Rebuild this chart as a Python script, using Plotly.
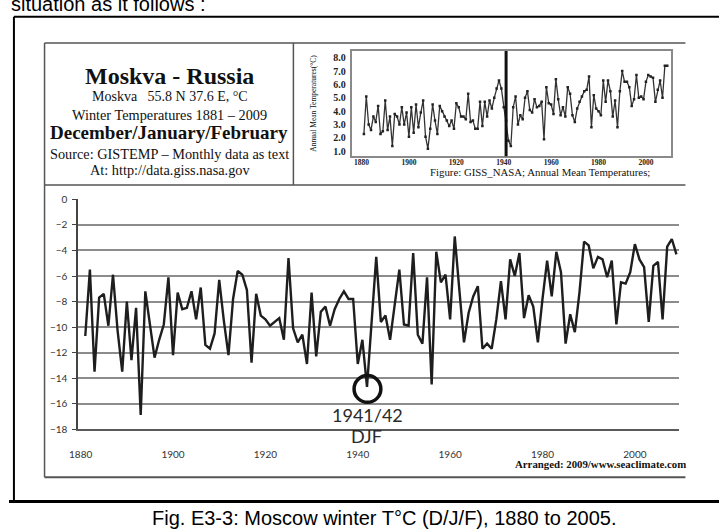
import plotly.graph_objects as go

W, H = 719, 530


def px(x):
    return x / W


def py(y):
    return 1 - y / H


# ---------------- data ----------------
winter_years = list(range(1881, 2010))
winter_temp = [
    -10.7, -5.5, -13.5, -7.7, -7.4, -9.9, -5.9, -10.3, -13.5, -8.0,
    -12.6, -8.5, -16.9, -7.2, -9.8, -12.4, -11.0, -9.8, -6.1, -12.2,
    -7.3, -8.6, -8.5, -7.2, -9.4, -6.9, -11.4, -11.7, -10.5, -6.3,
    -9.5, -12.2, -7.8, -5.6, -5.9, -7.1, -12.8, -7.4, -9.1, -9.4,
    -9.9, -9.6, -9.3, -11.0, -4.6, -10.1, -11.2, -10.6, -12.9, -7.3,
    -12.3, -8.8, -8.4, -9.9, -8.6, -7.8, -7.2, -7.8, -7.8, -12.9,
    -11.0, -14.7, -9.6, -4.5, -9.6, -9.1, -11.0, -8.3, -5.5, -9.8,
    -9.9, -4.2, -10.6, -11.3, -6.1, -14.5, -4.1, -6.5, -5.9, -9.4,
    -2.9, -7.1, -11.2, -8.9, -7.6, -6.8, -11.7, -11.3, -11.7, -9.4,
    -6.4, -9.4, -4.7, -6.0, -4.2, -9.3, -7.5, -8.4, -11.2, -7.8,
    -4.8, -7.6, -4.1, -5.7, -11.3, -9.0, -10.4, -7.3, -3.3, -3.6,
    -5.4, -4.5, -4.7, -6.1, -4.8, -9.8, -6.5, -6.6, -5.7, -3.5,
    -4.7, -5.3, -9.6, -5.2, -4.9, -9.4, -3.7, -3.1, -4.3,
]

annual_years = list(range(1881, 2010))
annual_temp = [
    2.3, 5.1, 3.0, 2.6, 3.6, 3.2, 4.4, 2.3, 2.5, 4.8,
    2.6, 3.6, 1.4, 3.8, 3.6, 3.0, 4.3, 3.0, 3.9, 2.1,
    4.3, 2.4, 4.5, 2.8, 3.9, 4.8, 2.1, 1.2, 2.7, 4.5,
    3.3, 2.3, 4.4, 4.0, 3.6, 3.3, 2.9, 3.3, 2.7, 4.6,
    4.3, 3.6, 3.6, 3.4, 5.3, 3.2, 3.3, 2.7, 2.7, 4.7,
    2.9, 4.7, 3.6, 4.8, 4.2, 5.0, 5.7, 6.3, 5.7, 4.3,
    3.3, 1.8, 1.4, 4.3, 5.1, 3.0, 3.7, 3.4, 5.0, 5.5,
    4.1, 3.9, 4.9, 4.3, 4.4, 4.7, 1.9, 5.8, 4.6, 4.5,
    3.8, 6.4, 4.9, 3.7, 4.3, 3.6, 5.8, 5.3, 3.7, 3.2,
    4.2, 4.7, 5.1, 5.5, 5.6, 6.6, 2.8, 5.2, 4.2, 4.0,
    3.7, 6.3, 4.7, 6.3, 5.5, 3.6, 4.8, 2.8, 5.5, 7.0,
    6.2, 6.2, 5.8, 4.4, 4.9, 6.7, 5.0, 5.1, 4.9, 6.2,
    6.7, 6.6, 6.5, 4.7, 5.6, 6.3, 5.0, 7.4, 7.4,
]

main_xticks = [1880, 1900, 1920, 1940, 1960, 1980, 2000]
main_top_ticks = [1900, 1920, 1940, 1960, 1980, 2000]
main_yticks = [0, -2, -4, -6, -8, -10, -12, -14, -16, -18]
inset_xticks = [1880, 1900, 1920, 1940, 1960, 1980, 2000]
inset_yticks = [1.0, 2.0, 3.0, 4.0, 5.0, 6.0, 7.0, 8.0]
inset_marker_year = 1941
event_year = 1942

SERIF = "Liberation Serif"
SANS = "Liberation Sans"
CAL = "Lato"

fig = go.Figure()

fig.add_trace(go.Scatter(
    x=winter_years, y=winter_temp, mode="lines",
    line=dict(color="#1e1e1e", width=2.4),
    xaxis="x", yaxis="y", showlegend=False, hoverinfo="x+y",
))

fig.add_trace(go.Scatter(
    x=annual_years, y=annual_temp, mode="lines+markers",
    line=dict(color="#333333", width=1.3),
    marker=dict(symbol="square", size=2.5, color="#222222"),
    xaxis="x2", yaxis="y2", showlegend=False, hoverinfo="x+y",
))

main_xrange = [1879.45, 2009.45]

fig.update_layout(
    width=W, height=H,
    margin=dict(l=0, r=0, t=0, b=0),
    paper_bgcolor="white", plot_bgcolor="rgba(0,0,0,0)",
    showlegend=False,
    xaxis=dict(
        domain=[px(70), px(678)], range=main_xrange, anchor="y",
        showgrid=False, zeroline=False,
        showline=True, linecolor="#5a5a5a", linewidth=2,
        ticks="", tickvals=main_xticks,
        tickfont=dict(family=CAL, size=10, color="#333333"),
        ticklabelstandoff=15,
    ),
    xaxis3=dict(
        overlaying="x", anchor="y", side="top", range=main_xrange,
        showgrid=False, zeroline=False,
        showline=True, linecolor="#1a1a1a", linewidth=3,
        ticks="outside", ticklen=4, tickwidth=1.2, tickcolor="#1a1a1a",
        tickvals=main_top_ticks, showticklabels=False,
    ),
    xaxis4=dict(
        overlaying="x", anchor="y", side="top", range=main_xrange,
        showgrid=False, zeroline=False, showline=False,
        ticks="inside", ticklen=5, tickwidth=1.2, tickcolor="#1a1a1a",
        tickvals=main_top_ticks, showticklabels=False,
    ),
    yaxis=dict(
        domain=[py(432.7), py(197.3)], range=[-18, 0], anchor="x",
        showgrid=True, gridcolor="#8c8c8c", gridwidth=2,
        zeroline=False,
        showline=True, linecolor="#444444", linewidth=1.5,
        ticks="outside", ticklen=4, tickcolor="#444444", tickwidth=1,
        tickvals=main_yticks,
        tickfont=dict(family=CAL, size=10, color="#333333"),
        ticklabelstandoff=3,
    ),
    xaxis2=dict(
        domain=[px(347), px(670)], range=[1875.83, 2010.42], anchor="y2",
        showgrid=False, zeroline=False,
        showline=True, mirror=True, linecolor="#8a8a8a", linewidth=2,
        ticks="", tickvals=inset_xticks,
        tickfont=dict(family=SERIF, size=7.5, color="#222222", weight="bold"),
        ticklabelstandoff=-2,
    ),
    yaxis2=dict(
        domain=[py(153), py(45)], range=[0.635, 8.51], anchor="x2",
        showgrid=False, zeroline=False,
        showline=True, mirror=True, linecolor="#8a8a8a", linewidth=2,
        ticks="", tickvals=inset_yticks, tickformat=".1f",
        tickfont=dict(family=SERIF, size=10, color="#222222", weight="bold"),
        ticklabelstandoff=2,
    ),
)

shapes = []


def pline(x0, y0, x1, y1, color, width):
    shapes.append(dict(type="line", xref="paper", yref="paper",
                       x0=px(x0), y0=py(y0), x1=px(x1), y1=py(y1),
                       line=dict(color=color, width=width)))


# outer frame
pline(5, 10, 719, 10, "#000000", 2)
pline(5, 10, 5, 507, "#000000", 2)
pline(0, 507, 719, 507, "#000000", 3)
# inner frame
pline(36, 37, 685, 37, "#555555", 1.5)
pline(36, 37, 36, 482, "#555555", 1.5)
pline(36, 482, 685, 482, "#555555", 2)
pline(36, 182.5, 685, 182.5, "#555555", 1.5)
pline(288, 37, 288, 182.5, "#555555", 1.5)

# vertical marker in inset
shapes.append(dict(type="line", xref="x2", yref="y2 domain",
                   x0=inset_marker_year, x1=inset_marker_year, y0=0, y1=1,
                   line=dict(color="#111111", width=3)))
# circle "O" around the 1941/42 winter
shapes.append(dict(type="circle", xref="x", yref="y",
                   x0=event_year - 2.8, x1=event_year + 3.0,
                   y0=-15.9, y1=-13.8,
                   line=dict(color="#111111", width=3.5)))

fig.update_layout(shapes=shapes)

ann = []


def ptext(text, x, y, size, family=SERIF, color="#111111", xanchor="center",
          yanchor="middle", bold=False, textangle=0):
    ann.append(dict(text=text, x=px(x), y=py(y), xref="paper", yref="paper",
                    xanchor=xanchor, yanchor=yanchor, showarrow=False,
                    textangle=textangle,
                    font=dict(family=family, size=size, color=color,
                              weight="bold" if bold else "normal")))


ptext("situation as it follows :", 0, 10, 20, family=SANS, color="#000000",
      xanchor="left", yanchor="bottom")

NB = "\u00a0"
ptext("Moskva - Russia", 163, 71, 24, bold=True)
ptext("Moskva" + NB * 3 + "55.8 N 37.6 E, °C", 163, 92, 14)
ptext("Winter Temperatures 1881 – 2009", 163, 111, 14.3)
ptext("December/January/February", 162, 129, 19, bold=True)
ptext("Source: GISTEMP – Monthly data as text", 163, 150.5, 14.3)
ptext("At: http://data.giss.nasa.gov", 163, 167.5, 14.3)

ptext("Annual Mean Temperatures(°C)", 308, 99, 7.5, textangle=-90)
ptext("Figure: GISS_NASA; Annual Mean Temperatures;", 537.5, 169, 10.8)

ptext("Arranged: 2009/www.seaclimate.com", 599, 469, 10.8, bold=True)

ptext("1941/42", 363, 418, 18, family=CAL, color="#2a2a2a")
ptext("DJF", 362, 440, 18, family=CAL, color="#2a2a2a")

ptext("Fig. E3-3: Moscow winter T°C (D/J/F), 1880 to 2005.", 380, 524, 20,
      family=SANS, color="#000000")

fig.update_layout(annotations=ann)

fig.write_html(
    "out.html",
    config={"displayModeBar": False},
    post_script="document.body.style.margin='0';document.body.style.overflow='hidden';",
)
